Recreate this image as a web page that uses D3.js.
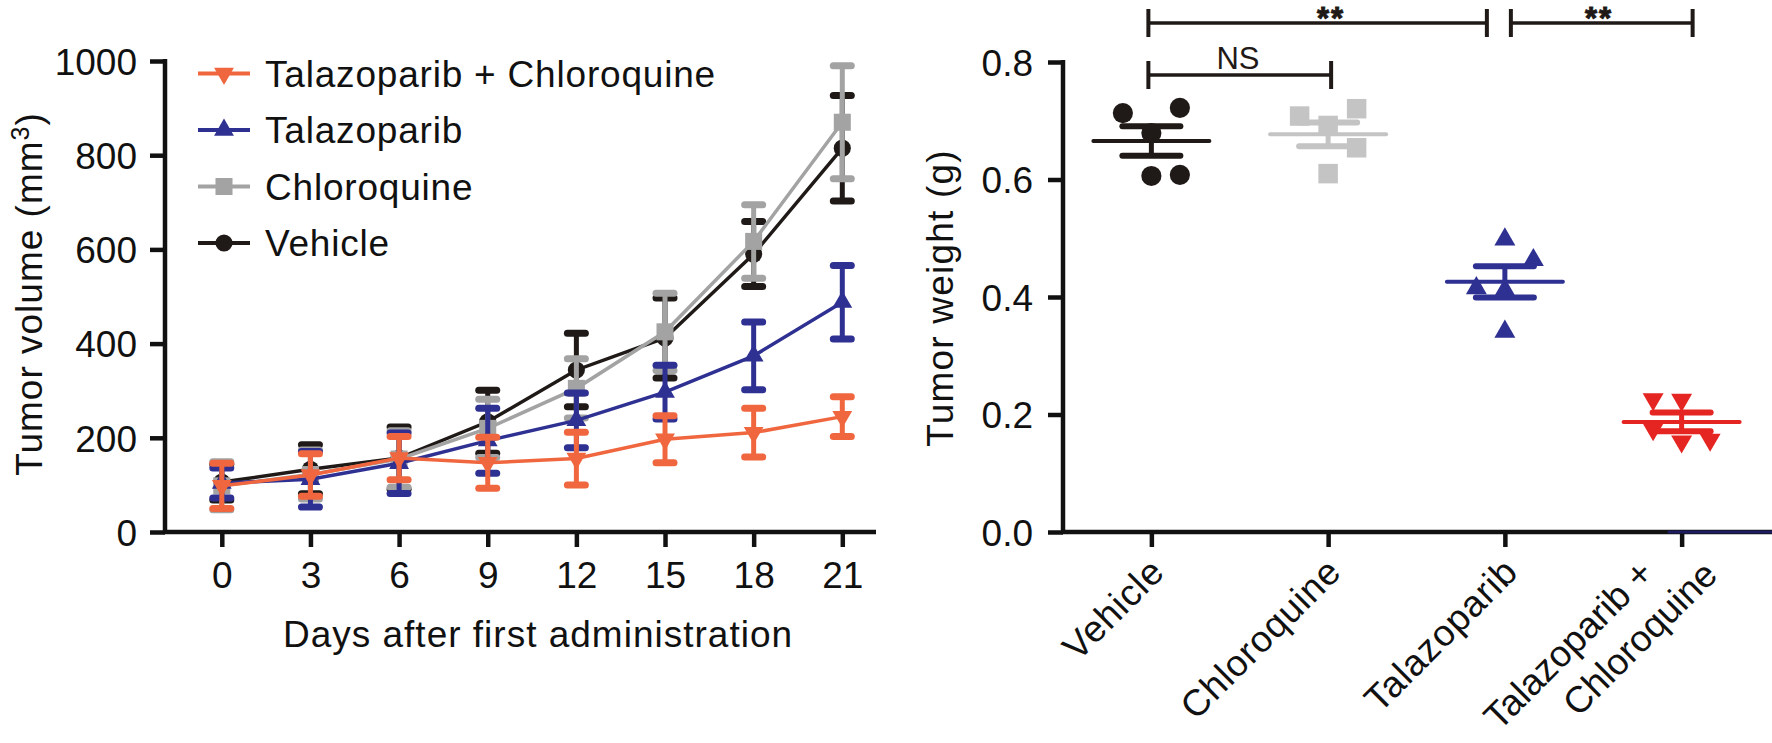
<!DOCTYPE html>
<html><head><meta charset="utf-8">
<script src="https://cdn.jsdelivr.net/npm/d3@7"></script>
<style>
body{margin:0;background:#fff;}
svg{display:block;font-family:"Liberation Sans",Arial,Helvetica,sans-serif;}
</style></head><body>
<svg id="c" width="1772" height="743"></svg>
<script>
// ---------- Data: left panel (tumor volume over time) ----------
const days = [0, 3, 6, 9, 12, 15, 18, 21];
const volumeTicks = [0, 200, 400, 600, 800, 1000];
const legendNames = ["Talazoparib + Chloroquine", "Talazoparib", "Chloroquine", "Vehicle"];
const vehicleMean = [106, 133, 157, 234, 344, 412, 590, 815];
const vehicleErr  = [38, 52, 66, 67, 78, 85, 69, 112];
const chloroMean  = [98, 122, 155, 220, 305, 425, 617, 870];
const chloroErr   = [51, 52, 60, 62, 63, 82, 78, 120];
const talaMean    = [104, 112, 146, 194, 237, 297, 374, 488];
const talaErr     = [32, 59, 64, 69, 58, 57, 72, 78];
const comboMean   = [98, 121, 157, 147, 156, 197, 211, 245];
const comboErr    = [48, 45, 46, 54, 56, 50, 52, 42];

// ---------- Data: right panel (tumor weight) ----------
const groups = ["Vehicle", "Chloroquine", "Talazoparib", "Talazoparib + Chloroquine"];
const weightTicks = [0, 0.2, 0.4, 0.6, 0.8];
const weightVehicle = [0.713, 0.722, 0.679, 0.606, 0.608];
const weightChloro  = [0.708, 0.7205, 0.654, 0.610, 0.692];
const weightTala    = [0.498, 0.463, 0.415, 0.412, 0.341];
const weightCombo   = [0.226, 0.225, 0.175, 0.154, 0.157];
const comparisons = [
  {from: "Vehicle", to: "Talazoparib", label: "**"},
  {from: "Talazoparib", to: "Talazoparib + Chloroquine", label: "**"},
  {from: "Vehicle", to: "Chloroquine", label: "NS"}
];

// ---------- Styles / layout ----------
const FONT = 37;
const svg = d3.select("#c");
const C = {black:"#1f1a17", grayL:"#a3a3a3", blue:"#2f3192", orange:"#f0673f", grayR:"#c4c4c4", red:"#e52521"};

// ===== Left panel =====
const xL = d3.scaleLinear().domain([0, 21]).range([221.8, 842.3]);
const yL = d3.scaleLinear().domain([0, 1000]).range([532, 61]);
const gL = svg.append("g");

function styleAxis(g){
  g.selectAll(".tick line").attr("stroke", "#111").attr("stroke-width", 4.5);
  g.selectAll(".tick text").attr("font-size", FONT).attr("fill", "#111").attr("font-family", "Liberation Sans, Arial, sans-serif");
  g.select(".domain").remove();
}
const axYL = gL.append("g").attr("transform", "translate(165,0)")
  .call(d3.axisLeft(yL).tickValues(volumeTicks).tickFormat(d3.format("d")).tickSize(15).tickSizeOuter(0).tickPadding(13));
styleAxis(axYL);
axYL.selectAll(".tick text").attr("dy", "0.36em");
const axXL = gL.append("g").attr("transform", "translate(0,532)")
  .call(d3.axisBottom(xL).tickValues(days).tickSize(15).tickSizeOuter(0).tickPadding(15));
styleAxis(axXL);
gL.append("line").attr("x1", 165).attr("x2", 165).attr("y1", yL(1000) - 2).attr("y2", 534).attr("stroke", "#111").attr("stroke-width", 4.5);
gL.append("line").attr("x1", 163).attr("x2", 876).attr("y1", 532).attr("y2", 532).attr("stroke", "#111").attr("stroke-width", 4.5);

gL.append("text").attr("transform", "translate(42,294) rotate(-90)").attr("text-anchor", "middle")
  .attr("font-size", FONT).attr("letter-spacing", 1).attr("fill", "#111")
  .call(t => { t.append("tspan").text("Tumor volume (mm");
               t.append("tspan").attr("font-size", 25).attr("dy", -13).text("3");
               t.append("tspan").attr("dy", 13).text(")"); });
gL.append("text").attr("x", 538).attr("y", 647).attr("text-anchor", "middle")
  .attr("font-size", FONT).attr("letter-spacing", 1).attr("fill", "#111").text("Days after first administration");

const series = [
  {name: "Vehicle", mean: vehicleMean, err: vehicleErr, color: C.black, sym: d3.symbolCircle, size: 230, rot: 0},
  {name: "Chloroquine", mean: chloroMean, err: chloroErr, color: C.grayL, sym: d3.symbolSquare, size: 290, rot: 0},
  {name: "Talazoparib", mean: talaMean, err: talaErr, color: C.blue, sym: d3.symbolTriangle, size: 170, rot: 0},
  {name: "Talazoparib + Chloroquine", mean: comboMean, err: comboErr, color: C.orange, sym: d3.symbolTriangle, size: 170, rot: 180}
];
const line = d3.line().x((d, i) => xL(days[i])).y(d => yL(d));
series.forEach(s => {
  const g = gL.append("g");
  days.forEach((d, i) => {
    const x = xL(d), m = s.mean[i], e = s.err[i];
    g.append("line").attr("x1", x).attr("x2", x).attr("y1", yL(m - e)).attr("y2", yL(m + e))
      .attr("stroke", s.color).attr("stroke-width", 5);
    [m - e, m + e].forEach(v => g.append("line").attr("x1", x - 9).attr("x2", x + 9)
      .attr("y1", yL(v)).attr("y2", yL(v)).attr("stroke", s.color).attr("stroke-width", 7).attr("stroke-linecap", "round"));
  });
  g.append("path").datum(s.mean).attr("d", line).attr("fill", "none").attr("stroke", s.color).attr("stroke-width", 3.5);
  g.selectAll("path.m").data(s.mean).enter().append("path").attr("class", "m")
    .attr("d", d3.symbol().type(s.sym).size(s.size))
    .attr("transform", (d, i) => `translate(${xL(days[i])},${yL(d)}) rotate(${s.rot})`)
    .attr("fill", s.color);
});

// Legend
const legendOrder = legendNames.map(n => series.find(s => s.name === n));
legendOrder.forEach((s, i) => {
  const cy = 73.5 + i * 56.5;
  gL.append("line").attr("x1", 198).attr("x2", 250).attr("y1", cy).attr("y2", cy).attr("stroke", s.color).attr("stroke-width", 4);
  gL.append("path").attr("d", d3.symbol().type(s.sym).size(s.size)).attr("transform", `translate(224,${cy}) rotate(${s.rot})`).attr("fill", s.color);
  gL.append("text").attr("x", 265).attr("y", cy + 13).attr("font-size", FONT).attr("letter-spacing", 0.8).attr("fill", "#111").text(s.name);
});

// ===== Right panel =====
const xR = d3.scalePoint().domain(groups).range([1063, 1770]).padding(0.5);
const yR = d3.scaleLinear().domain([0, 0.8]).range([532, 62]);
const gR = svg.append("g");
const axYR = gR.append("g").attr("transform", "translate(1063,0)")
  .call(d3.axisLeft(yR).tickValues(weightTicks).tickFormat(d3.format(".1f")).tickSize(15).tickSizeOuter(0).tickPadding(15));
styleAxis(axYR);
axYR.selectAll(".tick text").attr("dy", "0.36em");
const axXR = gR.append("g").attr("transform", "translate(0,532)")
  .call(d3.axisBottom(xR).tickSize(15).tickSizeOuter(0));
styleAxis(axXR);
axXR.selectAll(".tick text").remove();
gR.append("line").attr("x1", 1063).attr("x2", 1063).attr("y1", yR(0.8) - 2).attr("y2", 534).attr("stroke", "#111").attr("stroke-width", 4.5);
gR.append("line").attr("x1", 1061).attr("x2", 1772).attr("y1", 532).attr("y2", 532).attr("stroke", "#111").attr("stroke-width", 4.5);
gR.append("line").attr("x1", xR(groups[3]) - 14).attr("x2", 1772).attr("y1", 532).attr("y2", 532).attr("stroke", "#1c1c5e").attr("stroke-width", 3);

gR.append("text").attr("transform", "translate(953,298) rotate(-90)").attr("text-anchor", "middle")
  .attr("font-size", FONT).attr("letter-spacing", 1.2).attr("fill", "#111").text("Tumor weight (g)");

// rotated category labels
groups.forEach(gname => {
  const px = xR(gname) + 15, py = 574;
  const t = gR.append("text").attr("transform", `translate(${px},${py}) rotate(-45)`)
    .attr("text-anchor", "end").attr("font-size", FONT).attr("fill", "#111");
  if (gname.includes("+")) {
    t.attr("letter-spacing", 0);
    t.append("tspan").attr("x", -30).attr("y", -28).text("Talazoparib +");
    t.append("tspan").attr("x", 14).attr("y", 18).text("Chloroquine");
  } else t.attr("letter-spacing", 0.8).text(gname);
});

const weightSeries = [
  {name: "Vehicle", vals: weightVehicle, jit: [-1, 1, 0, 0, 1], color: C.black, sym: d3.symbolCircle, size: 320, rot: 0},
  {name: "Chloroquine", vals: weightChloro, jit: [-1, 1, 1, 0, 0], color: C.grayR, sym: d3.symbolSquare, size: 380, rot: 0},
  {name: "Talazoparib", vals: weightTala, jit: [0, 1, -1, 0, 0], color: C.blue, sym: d3.symbolTriangle, size: 190, rot: 0},
  {name: "Talazoparib + Chloroquine", vals: weightCombo, jit: [-1, 0, -1, 0, 1], color: C.red, sym: d3.symbolTriangle, size: 190, rot: 180}
];
weightSeries.forEach(s => {
  const cx = xR(s.name), g = gR.append("g");
  const mean = d3.mean(s.vals), sem = d3.deviation(s.vals) / Math.sqrt(s.vals.length);
  g.selectAll("path").data(s.vals).enter().append("path")
    .attr("d", d3.symbol().type(s.sym).size(s.size))
    .attr("transform", (d, i) => `translate(${cx + s.jit[i] * 28.5},${yR(d)}) rotate(${s.rot})`)
    .attr("fill", s.color);
  g.append("line").attr("x1", cx).attr("x2", cx).attr("y1", yR(mean - sem)).attr("y2", yR(mean + sem)).attr("stroke", s.color).attr("stroke-width", 5);
  [mean - sem, mean + sem].forEach(v => g.append("line").attr("x1", cx - 29).attr("x2", cx + 29).attr("y1", yR(v)).attr("y2", yR(v))
    .attr("stroke", s.color).attr("stroke-width", 6).attr("stroke-linecap", "round"));
  g.append("line").attr("x1", cx - 58).attr("x2", cx + 58).attr("y1", yR(mean)).attr("y2", yR(mean))
    .attr("stroke", s.color).attr("stroke-width", 4).attr("stroke-linecap", "round");
});

// significance brackets
const bracketLayout = [
  {dx1: -3, dx2: -18, y: 23, ty: 29, tx: 1331, fs: 31, fw: "bold", ls: 2},
  {dx1: 6, dx2: 11, y: 23, ty: 29, tx: 1599, fs: 31, fw: "bold", ls: 2},
  {dx1: -3, dx2: 3, y: 75, ty: 68.5, tx: 1238, fs: 31, fw: "normal", ls: 0}
];
comparisons.forEach((c, i) => {
  const L = bracketLayout[i];
  const x1 = xR(c.from) + L.dx1, x2 = xR(c.to) + L.dx2;
  gR.append("line").attr("x1", x1).attr("x2", x2).attr("y1", L.y).attr("y2", L.y).attr("stroke", "#1f1a17").attr("stroke-width", 3.5);
  [x1, x2].forEach(x => gR.append("line").attr("x1", x).attr("x2", x).attr("y1", L.y - 14).attr("y2", L.y + 14)
    .attr("stroke", "#1f1a17").attr("stroke-width", 4));
  gR.append("text").attr("x", L.tx).attr("y", L.ty).attr("text-anchor", "middle").attr("font-size", L.fs)
    .attr("font-weight", L.fw).attr("letter-spacing", L.ls).attr("fill", "#1f1a17")
    .attr("stroke", L.fw === "bold" ? "#1f1a17" : "none").attr("stroke-width", 1).text(c.label);
});
</script>
</body></html>
